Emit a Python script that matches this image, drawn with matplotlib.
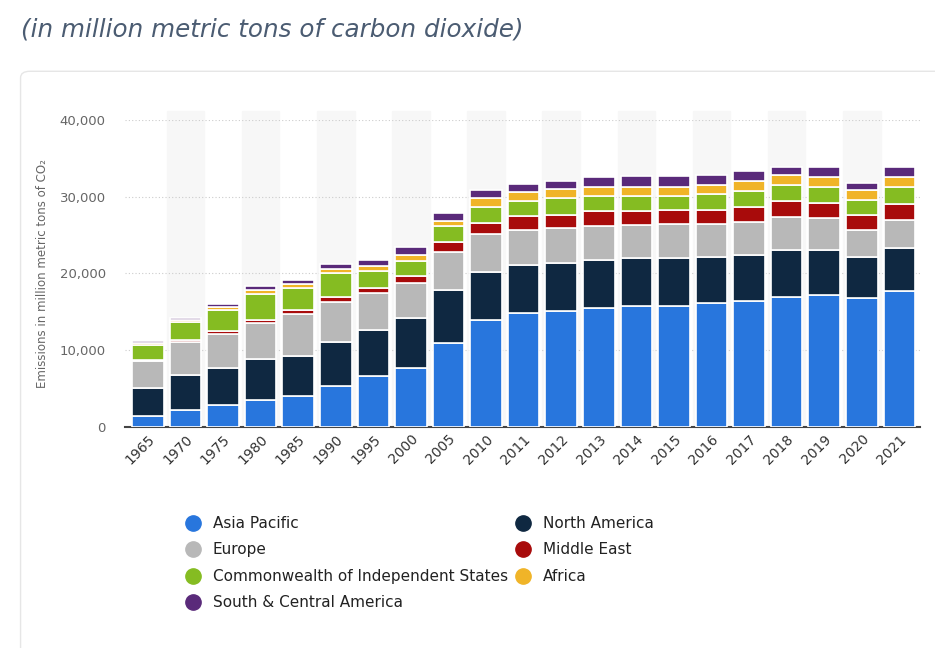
import numpy as np
import matplotlib.pyplot as plt
from matplotlib.lines import Line2D
from matplotlib.patches import FancyBboxPatch

years = ['1965', '1970', '1975', '1980', '1985', '1990', '1995', '2000', '2005', '2010',
         '2011', '2012', '2013', '2014', '2015', '2016', '2017', '2018', '2019', '2020', '2021']

# values in thousand million metric tons
asia_pacific = [1.4, 2.2, 2.9, 3.5, 4.0, 5.3, 6.6, 7.7, 10.9, 13.9, 14.8, 15.1, 15.5, 15.7, 15.7, 16.1, 16.4, 16.9, 17.2, 16.8, 17.7]
north_america = [3.7, 4.6, 4.8, 5.4, 5.3, 5.8, 6.0, 6.5, 7.0, 6.3, 6.3, 6.2, 6.3, 6.3, 6.3, 6.0, 6.0, 6.2, 5.9, 5.3, 5.6]
europe = [3.5, 4.3, 4.4, 4.7, 5.4, 5.2, 4.9, 4.6, 4.9, 4.9, 4.6, 4.6, 4.4, 4.3, 4.4, 4.3, 4.3, 4.3, 4.1, 3.6, 3.7]
middle_east = [0.15, 0.2, 0.4, 0.4, 0.6, 0.6, 0.6, 0.9, 1.3, 1.5, 1.8, 1.7, 1.9, 1.8, 1.8, 1.9, 2.0, 2.0, 2.0, 1.9, 2.1]
cis = [1.9, 2.4, 2.7, 3.3, 2.8, 3.1, 2.2, 1.9, 2.1, 2.0, 1.9, 2.2, 2.0, 2.0, 1.9, 2.1, 2.1, 2.1, 2.1, 2.0, 2.1]
africa = [0.25, 0.25, 0.4, 0.5, 0.5, 0.6, 0.7, 0.8, 0.6, 1.2, 1.2, 1.2, 1.1, 1.2, 1.2, 1.1, 1.3, 1.3, 1.3, 1.3, 1.3]
south_central_america = [0.3, 0.3, 0.4, 0.6, 0.6, 0.6, 0.8, 1.1, 1.1, 1.1, 1.1, 1.1, 1.3, 1.4, 1.4, 1.3, 1.2, 1.1, 1.3, 0.9, 1.3]

series = [
    ('Asia Pacific', asia_pacific, '#2876dd'),
    ('North America', north_america, '#0f2841'),
    ('Europe', europe, '#b8b8b8'),
    ('Middle East', middle_east, '#a80b0b'),
    ('Commonwealth of Independent States', cis, '#85bc22'),
    ('Africa', africa, '#f0b428'),
    ('South & Central America', south_central_america, '#5a2a7a'),
]

fig = plt.figure(figsize=(9.35, 6.48), dpi=100)
fig.patch.set_facecolor('white')

# card
card = FancyBboxPatch((0.022, -0.05), 1.0, 0.94, boxstyle='round,pad=0,rounding_size=0.01',
                      transform=fig.transFigure, facecolor='white', edgecolor='#e6e6e6',
                      linewidth=1, zorder=-1)
fig.patches.append(card)

fig.text(0.022, 0.955, '(in million metric tons of carbon dioxide)', fontsize=17.7,
         style='italic', color='#4b5c72', va='center', ha='left')

ax = fig.add_axes([0.134, 0.341, 0.85, 0.474])
x = np.arange(len(years))

for i in x:
    if i % 2 == 1:
        ax.axvspan(i - 0.5, i + 0.5, ymin=0, ymax=1.03, color='#f7f7f7', zorder=0, clip_on=False)

bottom = np.zeros(len(years))
for name, vals, col in series:
    v = np.array(vals) * 1000
    ax.bar(x, v, 0.84, bottom=bottom, color=col, edgecolor='white', linewidth=1.2, zorder=3)
    bottom += v

ax.set_xlim(-0.6, len(years) - 0.45)
ax.set_ylim(0, 40000)
ax.set_yticks([0, 10000, 20000, 30000, 40000])
ax.set_yticklabels(['0', '10,000', '20,000', '30,000', '40,000'])
ax.yaxis.grid(True, linestyle=(0, (1, 2)), color='#cccccc', linewidth=0.8, zorder=1)
ax.set_axisbelow(True)
for s in ['top', 'right', 'left']:
    ax.spines[s].set_visible(False)
ax.spines['bottom'].set_color('#444444')
ax.spines['bottom'].set_linewidth(1.5)
ax.tick_params(axis='y', length=0, labelsize=9.5, labelcolor='#666666', pad=14)
ax.tick_params(axis='x', length=0, labelsize=10, labelcolor='#333333')
ax.set_xticks(x)
ax.set_xticklabels(years, rotation=45, ha='right', rotation_mode='anchor')
ax.set_ylabel('Emissions in million metric tons of CO\u2082', fontsize=8.5, color='#666666', labelpad=8)

handles = [Line2D([], [], marker='o', linestyle='', markersize=11, color=c, label=n)
           for n, _, c in series]
order = [0, 2, 4, 6, 1, 3, 5]
leg = fig.legend(handles=[handles[i] for i in order], loc='upper left',
                 bbox_to_anchor=(0.175, 0.225), ncol=2, frameon=False,
                 fontsize=11, columnspacing=1.3, handletextpad=0.3, labelspacing=0.75)
for t in leg.get_texts():
    t.set_color('#222222')
    t.set_fontweight('medium')
fig.canvas.draw()
# push second column to match the reference
cols = leg._legend_handle_box.get_children()
if len(cols) == 2:
    w0 = cols[0].get_window_extent().width
    leg._legend_handle_box.sep = max(0, 500 - 0.175 * 935 - 10 - w0)

fig.savefig('out.png', dpi=100)
